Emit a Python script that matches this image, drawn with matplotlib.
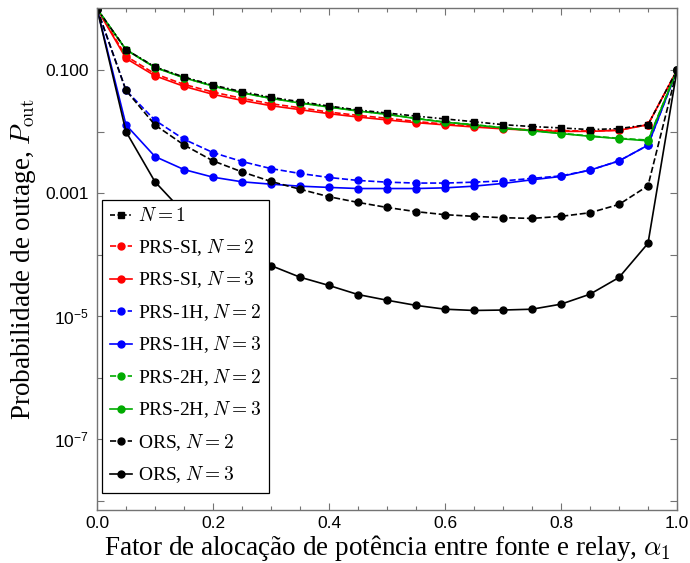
import numpy as np
import matplotlib
matplotlib.use('Agg')
import matplotlib.pyplot as plt
from matplotlib.ticker import FixedLocator, FixedFormatter, NullFormatter

plt.rcParams['mathtext.fontset'] = 'cm'
plt.rcParams['font.family'] = ['Liberation Serif', 'DejaVu Serif']

alpha = [0.0, 0.05, 0.1, 0.15, 0.2, 0.25, 0.3, 0.35, 0.4, 0.45, 0.5,
         0.55, 0.6, 0.65, 0.7, 0.75, 0.8, 0.85, 0.9, 0.95, 1.0]

n1 = [1.0, 0.216, 0.113, 0.0771, 0.0571, 0.0446, 0.0361, 0.0307, 0.0261, 0.0225, 0.0201,
      0.0179, 0.0161, 0.0145, 0.0130, 0.0121, 0.0115, 0.0108, 0.0112, 0.0130, 0.1]
prs_si_2 = [1.0, 0.169, 0.0871, 0.0586, 0.0440, 0.0348, 0.0284, 0.0245, 0.0208, 0.0184, 0.0165,
            0.0146, 0.0133, 0.0123, 0.0114, 0.0107, 0.0104, 0.0102, 0.0106, 0.0130, 0.1]
prs_si_3 = [1.0, 0.155, 0.0809, 0.0545, 0.0404, 0.0322, 0.0264, 0.0228, 0.0196, 0.0173, 0.0155,
            0.0140, 0.0129, 0.0119, 0.0111, 0.0105, 0.0101, 0.0101, 0.0105, 0.0130, 0.1]
prs_1h_2 = [1.0, 0.0468, 0.0153, 0.00752, 0.00457, 0.00327, 0.00251, 0.00209, 0.00180, 0.00161, 0.00151,
            0.00146, 0.00146, 0.00151, 0.00158, 0.00174, 0.00191, 0.00237, 0.00335, 0.00603, 0.1]
prs_1h_3 = [1.0, 0.01285, 0.00394, 0.00242, 0.00182, 0.00153, 0.00140, 0.00130, 0.00124, 0.00119, 0.00119,
            0.00119, 0.00122, 0.00130, 0.00144, 0.00165, 0.00187, 0.00237, 0.00334, 0.00603, 0.1]
prs_2h_2 = [1.0, 0.216, 0.111, 0.0755, 0.0553, 0.0430, 0.0349, 0.0294, 0.0253, 0.0218, 0.0192,
            0.0165, 0.0143, 0.0130, 0.0116, 0.0104, 0.0094, 0.0085, 0.0078, 0.0073, 0.1]
prs_2h_3 = [1.0, 0.214, 0.110, 0.0750, 0.0550, 0.0427, 0.0347, 0.0292, 0.0251, 0.0216, 0.0191,
            0.0163, 0.0142, 0.0129, 0.0115, 0.0103, 0.0093, 0.0084, 0.0077, 0.0071, 0.1]
ors_2 = [1.0, 0.0468, 0.01285, 0.00608, 0.00335, 0.00222, 0.00155, 0.00116, 0.000875, 0.000708, 0.000586,
         0.000501, 0.000447, 0.000420, 0.000399, 0.000389, 0.000420, 0.000481, 0.000656, 0.00132, 0.1]
ors_3 = [1.0, 0.0100, 0.00153, 0.000479, 0.000219, 0.000115, 6.65e-5, 4.31e-5, 3.16e-5, 2.25e-5, 1.82e-5,
         1.50e-5, 1.30e-5, 1.24e-5, 1.26e-5, 1.30e-5, 1.57e-5, 2.28e-5, 4.26e-5, 0.000153, 0.1]

green = (0.0, 0.67, 0.0)
series = [
    (prs_si_2, 'red', '--', r'PRS-SI, $N=2$'),
    (prs_si_3, 'red', '-', r'PRS-SI, $N=3$'),
    (prs_1h_2, 'blue', '--', r'PRS-1H, $N=2$'),
    (prs_1h_3, 'blue', '-', r'PRS-1H, $N=3$'),
    (prs_2h_2, green, '--', r'PRS-2H, $N=2$'),
    (prs_2h_3, green, '-', r'PRS-2H, $N=3$'),
    (ors_2, 'black', '--', r'ORS, $N=2$'),
    (ors_3, 'black', '-', r'ORS, $N=3$'),
]

fig = plt.figure(figsize=(6.9, 5.63), dpi=100)
ax = fig.add_axes([97 / 690, 1 - 510 / 563, 580 / 690, 502 / 563])

handles = []
for vals, col, ls, lab in series:
    h, = ax.plot(alpha, vals, color=col, ls=ls, marker='o', ms=5, lw=1.2, label=lab)
    handles.append(h)
h1, = ax.plot(alpha, n1, color='black', ls=(0, (3, 1.5, 1, 1.5)), marker='s', ms=5, lw=1.2,
              label=r'$N=1$')

ax.set_yscale('log')
ax.set_xlim(0, 1)
ax.set_ylim(10 ** -8.15, 10 ** 0.01)

ax.xaxis.set_major_locator(FixedLocator([0, 0.2, 0.4, 0.6, 0.8, 1.0]))
ax.xaxis.set_major_formatter(FixedFormatter(['0.0', '0.2', '0.4', '0.6', '0.8', '1.0']))
ax.xaxis.set_minor_locator(FixedLocator(np.arange(0, 1.001, 0.05)))
ax.yaxis.set_major_locator(FixedLocator([1e-1, 1e-3, 1e-5, 1e-7]))
ax.yaxis.set_major_formatter(FixedFormatter(['0.100', '0.001', r'$\mathregular{10^{-5}}$',
                                             r'$\mathregular{10^{-7}}$']))
ax.yaxis.set_minor_locator(FixedLocator([1e-2, 1e-4, 1e-6, 1e-8]))
ax.yaxis.set_minor_formatter(NullFormatter())

for sp in ax.spines.values():
    sp.set_color('0.45')
    sp.set_linewidth(1.0)
ax.tick_params(which='both', direction='in', top=True, right=True, color='0.45', width=0.8)
ax.tick_params(axis='x', which='major', length=5, pad=4)
ax.tick_params(axis='x', which='minor', length=3)
ax.tick_params(axis='y', which='both', length=5, pad=6)
for t in ax.get_xticklabels() + ax.get_yticklabels():
    t.set_fontfamily('Liberation Sans')
    t.set_fontsize(12.5)

ax.set_xlabel(r'Fator de alocação de potência entre fonte e relay, $\alpha_1$', fontsize=19.5, labelpad=2)
ax.set_ylabel(r'Probabilidade de outage, $P_{\rm out}$', fontsize=19.5, labelpad=5)

leg = ax.legend(handles=[h1] + handles, loc='lower left', bbox_to_anchor=(5 / 580, 17 / 502),
                borderaxespad=0, fontsize=14, handlelength=1.15, handletextpad=0.3,
                labelspacing=0.6, borderpad=0.4, fancybox=False, framealpha=1,
                edgecolor='black')
leg.get_frame().set_linewidth(0.9)

fig.savefig('out.png', dpi=100)
